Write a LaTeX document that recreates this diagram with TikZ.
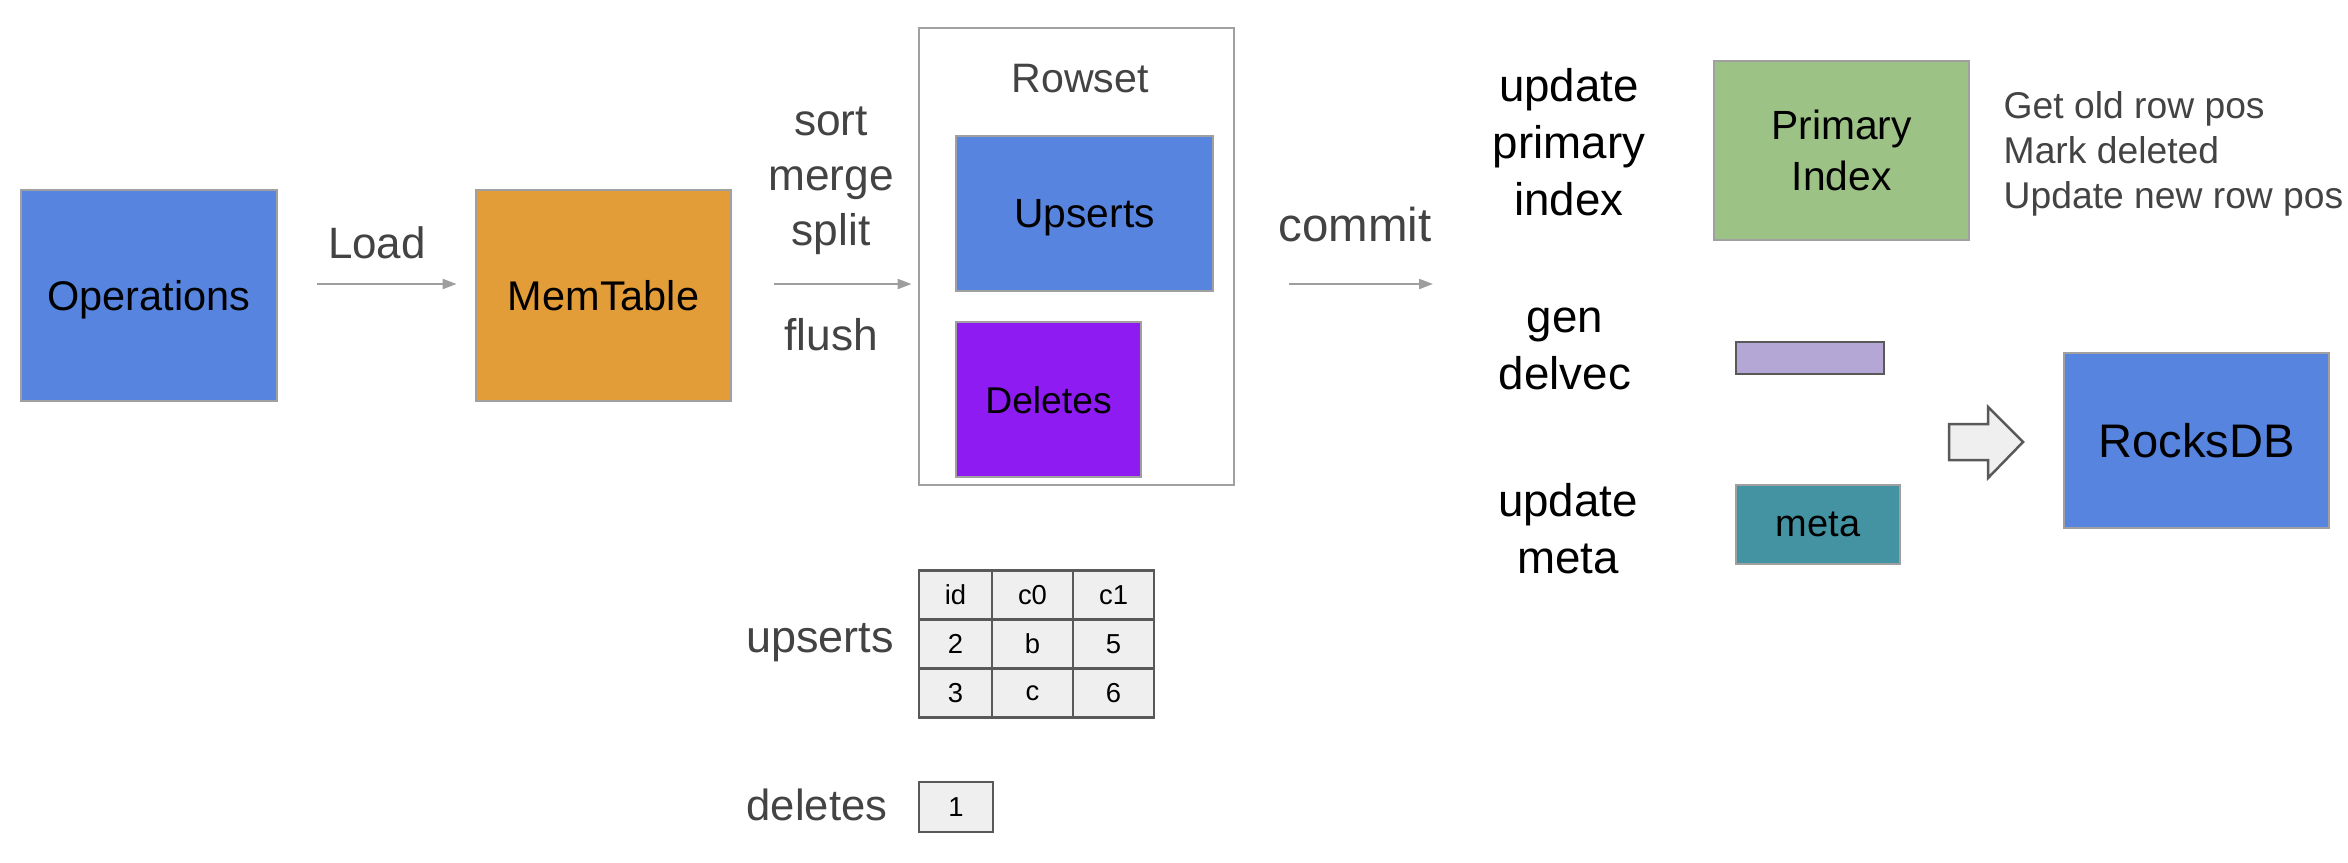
\documentclass[tikz,border=0pt]{standalone}
\usepackage{fontspec}
\setmainfont{Liberation Sans}
\usetikzlibrary{positioning,arrows.meta}
\definecolor{opblue}{HTML}{5684DF}
\definecolor{memorange}{HTML}{E29D38}
\definecolor{delpurple}{HTML}{8E1CF2}
\definecolor{pkgreen}{HTML}{9CC285}
\definecolor{dvlilac}{HTML}{B4A7D6}
\definecolor{metateal}{HTML}{4493A3}
\definecolor{boxgray}{HTML}{A0A0A0}
\definecolor{darkline}{HTML}{595959}
\definecolor{cellfill}{HTML}{EFEFEF}
\definecolor{labelgray}{HTML}{434343}
\definecolor{arrowgray}{HTML}{9E9E9E}

\begin{document}
\begin{tikzpicture}[x=1cm, y=-1cm,
    box/.style={draw=boxgray, line width=0.8pt, inner sep=0pt, text=black, text depth=0pt},
    lbl/.style={text=labelgray, align=center, inner sep=0pt},
    cmd/.style={text=black, align=center, inner sep=0pt, font=\fontsize{13}{16.2}\selectfont},
    flow/.style={draw=arrowgray, line width=0.6pt, -{Triangle[length=1.4mm, width=1.0mm]}},
    cell/.style={draw=darkline, fill=cellfill, line width=0.7pt, inner sep=0pt,
        minimum height=0.49cm, font=\fontsize{7.8}{9}\selectfont}]
    \useasboundingbox (0,0) rectangle (23.48,8.62);

    % load and flush
    \node[box, fill=opblue, minimum width=2.56cm, minimum height=2.11cm,
        font=\fontsize{11.8}{14}\selectfont] (ops) at (1.49, 2.955) {Operations};
    \node[box, fill=memorange, minimum width=2.55cm, minimum height=2.11cm,
        font=\fontsize{11.8}{14}\selectfont] (mem) at (6.035, 2.955) {MemTable};
    \node[lbl, font=\fontsize{12.5}{15}\selectfont] (load) at (3.77, 2.43) {Load};
    \node[lbl, font=\fontsize{12.6}{15.6}\selectfont] (sms) at (8.31, 1.81) {sort\\merge\\split};
    \node[lbl, font=\fontsize{12.6}{15.6}\selectfont] (flush) at (8.31, 3.35) {flush};

    % Rowset
    \node[box, minimum width=3.15cm, minimum height=4.57cm] (rowset) at (10.765, 2.565) {};
    \node[lbl, font=\fontsize{11.7}{14}\selectfont] (rowsetlbl) at (10.8, 0.79) {Rowset};
    \node[box, fill=opblue, minimum width=2.57cm, minimum height=1.55cm,
        font=\fontsize{11.6}{14}\selectfont] (ups) at (10.845, 2.135) {Upserts};
    \node[box, fill=delpurple, minimum width=1.85cm, minimum height=1.55cm,
        font=\fontsize{10.6}{13}\selectfont] (dels) at (10.485, 3.995) {Deletes};

    \draw[flow, shorten <=0.39cm, shorten >=0.18cm] ([yshift=0.115cm]ops.east) -- ([yshift=0.115cm]mem.west);
    \draw[flow, shorten <=0.42cm, shorten >=0.06cm] ([yshift=0.115cm]mem.east) -- ([yshift=-0.275cm]rowset.west);

    % commit
    \coordinate (commitend) at (14.33, 2.84);
    \node[lbl, font=\fontsize{13.5}{16}\selectfont] (commit) at (13.55, 2.25) {commit};
    \draw[flow, shorten <=0.54cm] ([yshift=-0.275cm]rowset.east) -- (commitend);

    % upsert / delete contents
    \node[lbl, font=\fontsize{12.8}{15}\selectfont] (upslbl) at (8.2, 6.43) {upserts};
    \node[lbl, font=\fontsize{12.4}{15}\selectfont] (delslbl) at (8.17, 8.05) {deletes};
    \foreach \r/\a/\b/\c in {1/id/c0/c1, 2/2/b/5, 3/3/c/6} {
        \node[cell, minimum width=0.73cm] (t\r a) at (9.555, 5.46+0.49*\r) {\a};
        \node[cell, minimum width=0.81cm] (t\r b) at (10.325, 5.46+0.49*\r) {\b};
        \node[cell, minimum width=0.81cm] (t\r c) at (11.135, 5.46+0.49*\r) {\c};
    }
    \node[cell, minimum width=0.74cm, minimum height=0.5cm] (delrow) at (9.56, 8.07) {1};

    % update steps
    \node[cmd] (updpk) at (15.69, 1.42) {update\\primary\\index};
    \node[cmd] (gendv) at (15.65, 3.49) {gen\\delvec};
    \node[cmd] (updmeta) at (15.68, 5.29) {update\\meta};

    \node[box, fill=pkgreen, minimum width=2.55cm, minimum height=1.79cm, align=center,
        font=\fontsize{11.6}{14.4}\selectfont] (pk) at (18.415, 1.505) {Primary\\Index};
    \node[lbl, anchor=west, align=left, font=\fontsize{10.6}{12.8}\selectfont] (pksteps) at (20.03, 1.54)
        {Get old row pos\\Mark deleted\\Update new row pos};
    \node[box, draw=darkline, fill=dvlilac, minimum width=1.48cm, minimum height=0.32cm] (dv) at (18.1, 3.58) {};
    \node[box, fill=metateal, minimum width=1.64cm, minimum height=0.79cm,
        font=\fontsize{10.8}{13}\selectfont] (meta) at (18.18, 5.245) {meta};

    % into RocksDB
    \draw[draw=darkline, fill=cellfill, line width=0.7pt] (19.49,4.24) -- (19.88,4.24) -- (19.88,4.07)
        -- (20.23,4.42) -- (19.88,4.78) -- (19.88,4.60) -- (19.49,4.60) -- cycle;
    \node[box, fill=opblue, minimum width=2.65cm, minimum height=1.75cm,
        font=\fontsize{13.4}{16}\selectfont] (rocks) at (21.965, 4.405) {RocksDB};
\end{tikzpicture}
\end{document}
